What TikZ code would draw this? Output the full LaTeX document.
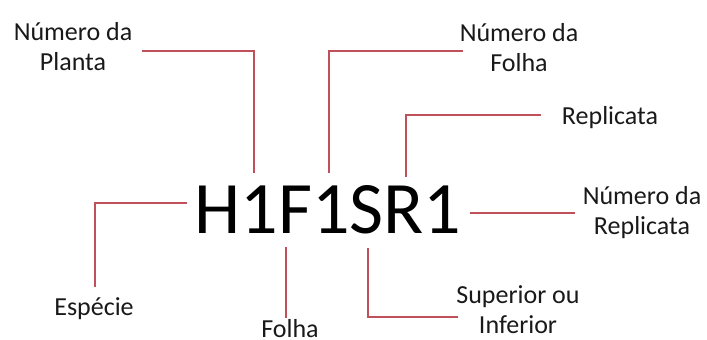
\documentclass[tikz,border=0pt]{standalone}
\usepackage{fontspec}
\setmainfont{Carlito}
\definecolor{leader}{RGB}{192,80,90}
\definecolor{labelink}{RGB}{25,25,25}
\begin{document}
\begin{tikzpicture}[x=1pt,y=-1pt,
  leaderline/.style={draw=leader,line width=1.3pt},
  tagone/.style={text=labelink,font=\fontsize{26}{30}\selectfont,inner sep=0pt,anchor=base},
  tag/.style={tagone,align=center},
  codetext/.style={text=black,font=\fontsize{74}{80}\selectfont,inner sep=0pt,anchor=base}]
  \useasboundingbox (0,0) rectangle (707,340);

  % the sample code
  \node[codetext] (code) at (328,233) {H1F1SR1};

  % labels (base anchor sits on the last line)
  \node[tag] (planta)  at (73,70)  {Número da\\Planta};
  \node[tag] (nfolha)  at (519,71) {Número da\\Folha};
  \node[tagone] (repl)    at (610,124) {Replicata};
  \node[tag] (nrepl)   at (642,234) {Número da\\Replicata};
  \node[tag] (supinf)  at (518,333) {Superior ou\\Inferior};
  \node[tagone] (especie) at (94,315) {Espécie};
  \node[tagone] (folha)   at (290,337) {Folha};

  % leader end points
  \coordinate (plantaA) at (142,51);
  \coordinate (plantaB) at (254,173);
  \coordinate (nfolhaA) at (463,51);
  \coordinate (nfolhaB) at (329,173);
  \coordinate (replA)   at (541,115);
  \coordinate (replB)   at (406,177);
  \coordinate (nreplA)  at (575,213);
  \coordinate (nreplB)  at (470,213);
  \coordinate (supA)    at (458,317);
  \coordinate (supB)    at (368,248);
  \coordinate (folhaA)  at (286,318);
  \coordinate (folhaB)  at (286,247);
  \coordinate (espA)    at (95,287);
  \coordinate (espB)    at (187,203);

  % leaders
  \draw[leaderline] (plantaA) -| (plantaB);
  \draw[leaderline] (nfolhaA) -| (nfolhaB);
  \draw[leaderline] (replA) -| (replB);
  \draw[leaderline] (nreplA) -- (nreplB);
  \draw[leaderline] (supA) -| (supB);
  \draw[leaderline] (folhaA) -- (folhaB);
  \draw[leaderline] (espA) |- (espB);
\end{tikzpicture}
\end{document}
